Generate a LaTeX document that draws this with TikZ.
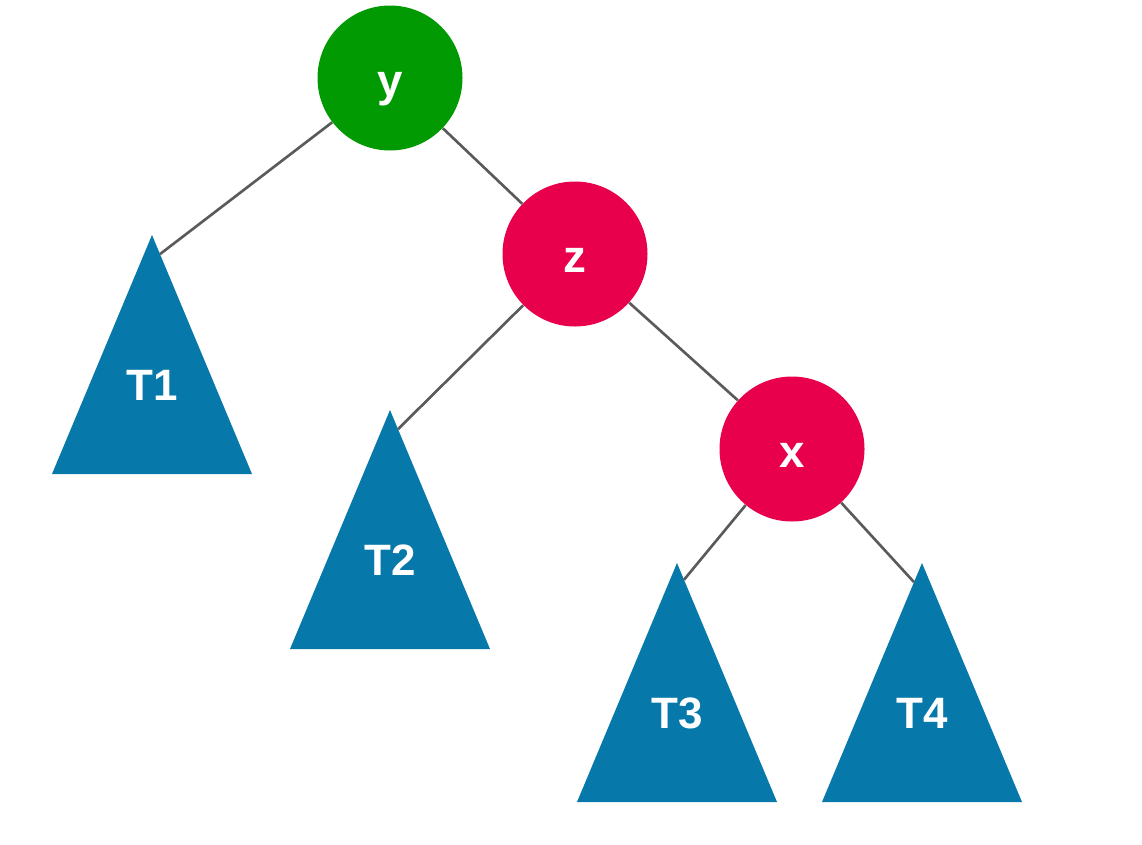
\documentclass[tikz,border=0pt]{standalone}
\usepackage{fontspec}
\setmainfont{Liberation Sans}
\usetikzlibrary{shapes.geometric,calc}
\definecolor{keygreen}{HTML}{029A02}
\definecolor{keyred}{HTML}{E9004C}
\definecolor{subblue}{HTML}{0778AA}
\definecolor{linkgray}{HTML}{5A5A5A}

\begin{document}
\begin{tikzpicture}[
    keynode/.style={
      circle,
      draw=none,
      minimum size=2.9cm,
      text=white,
      text height=0.72cm,
      text depth=0pt,
      font=\fontsize{26}{30}\selectfont\bfseries
    },
    subtree/.style={
      isosceles triangle,
      shape border rotate=90,
      isosceles triangle stretches,
      minimum width=4.0cm,
      minimum height=4.78cm,
      inner sep=0pt,
      outer sep=0pt,
      text depth=0.9cm,
      fill=subblue,
      text=white,
      font=\fontsize{25}{30}\selectfont\bfseries,
      anchor=apex
    },
    link/.style={
      linkgray,
      line width=1.5pt
    }
  ]
    \useasboundingbox (0,0) rectangle (22.84,-16.88);
    \node[keynode, fill=keygreen] (y) at (7.8,-1.56) {y};
    \node[keynode, fill=keyred] (z) at (11.5,-5.08) {z};
    \node[keynode, fill=keyred] (x) at (15.84,-8.98) {x};
    \node[subtree] (T1) at (3.04,-4.7) {T1};
    \node[subtree] (T2) at (7.8,-8.2) {T2};
    \node[subtree] (T3) at (13.54,-11.26) {T3};
    \node[subtree] (T4) at (18.44,-11.26) {T4};
    \draw[link] (y) -- ($(T1.apex)!0.08!(T1.right corner)$);
    \draw[link] (y) -- (z);
    \draw[link] (z) -- ($(T2.apex)!0.08!(T2.right corner)$);
    \draw[link] (z) -- (x);
    \draw[link] (x) -- ($(T3.apex)!0.07!(T3.right corner)$);
    \draw[link] (x) -- ($(T4.apex)!0.08!(T4.left corner)$);
\end{tikzpicture}
\end{document}
